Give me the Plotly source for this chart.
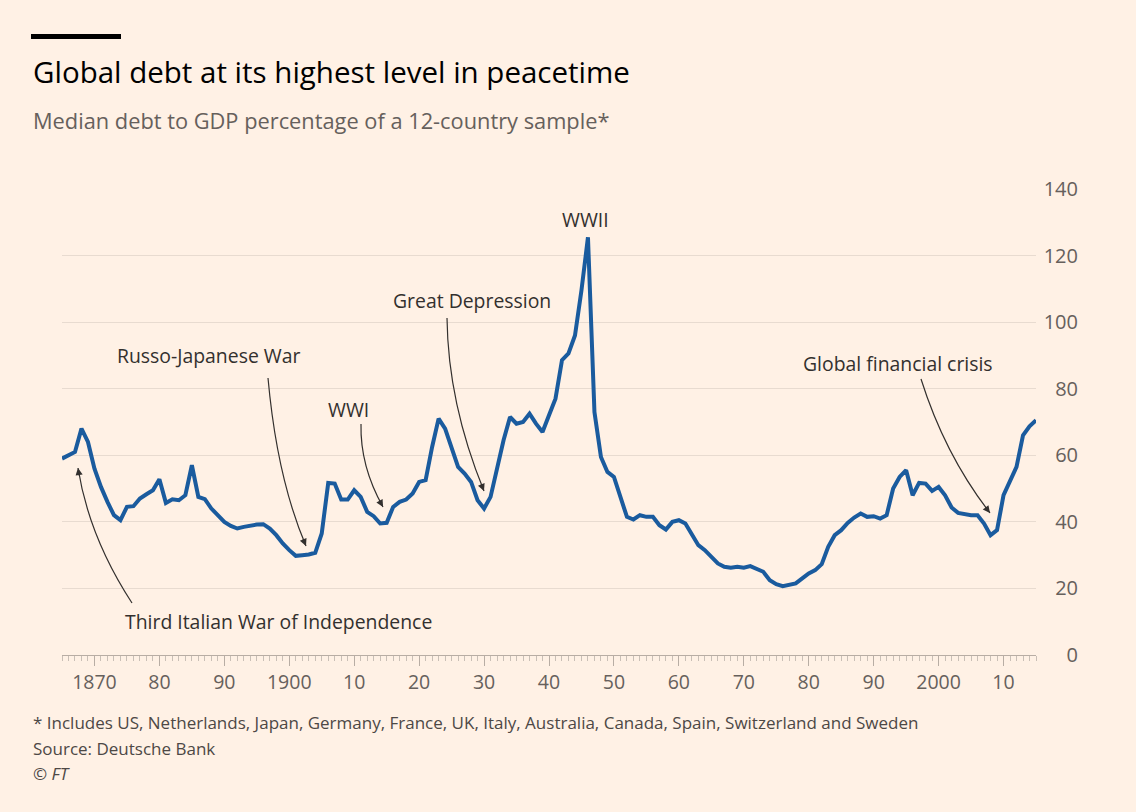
import plotly.graph_objects as go

# ---------------- data ----------------
years = list(range(1865, 2016))
debt_to_gdp = [
    59, 60, 61, 68, 64, 56, 50.5, 46, 42, 40.5,            # 1865-1874
    44.5, 44.7, 47, 48.3, 49.5, 52.8, 45.7, 46.8, 46.5, 48,  # 1875-1884
    57, 47.5, 46.8, 44, 42, 40, 38.8, 38, 38.5, 39,        # 1885-1894
    39.2, 39.3, 38, 36, 33.5, 31.5, 29.8, 30, 30.2, 30.7,  # 1895-1904
    36.5, 51.7, 51.5, 46.7, 46.7, 49.5, 47.5, 43, 41.7, 39.5,  # 1905-1914
    39.7, 44.5, 46, 46.7, 48.5, 52, 52.5, 62.5, 71, 68,    # 1915-1924
    62, 56.5, 54.5, 52, 46.5, 44, 47.5, 56.5, 64.5, 71.5,  # 1925-1934
    69.5, 70, 72.5, 69.5, 67, 72, 77, 88.6, 90.6, 96,      # 1935-1944
    109.6, 125.5, 73, 59.5, 55, 53.5, 47.5, 41.5, 40.7, 42,  # 1945-1954
    41.5, 41.5, 39, 37.7, 40, 40.5, 39.5, 36, 33, 31.5,    # 1955-1964
    29.5, 27.5, 26.5, 26.2, 26.5, 26.2, 26.7, 26, 25, 22.5,  # 1965-1974
    21.3, 20.7, 21, 21.5, 23, 24.5, 25.5, 27.3, 32.5, 36,  # 1975-1984
    37.5, 39.7, 41.3, 42.5, 41.5, 41.7, 41, 42, 50, 53.5,  # 1985-1994
    55.5, 48, 51.7, 51.5, 49.3, 50.5, 48, 44.3, 42.7, 42.3,  # 1995-2004
    42, 42, 39.5, 36, 37.5, 48, 52.5, 56.5, 66, 68.7,      # 2005-2014
    70.5,                                                  # 2015
]
assert len(years) == len(debt_to_gdp)

x_tick_vals = [1870, 1880, 1890, 1900, 1910, 1920, 1930, 1940, 1950,
               1960, 1970, 1980, 1990, 2000, 2010]
x_tick_text = ["1870", "80", "90", "1900", "10", "20", "30", "40", "50",
               "60", "70", "80", "90", "2000", "10"]
y_tick_vals = [0, 20, 40, 60, 80, 100, 120, 140]

title = "Global debt at its highest level in peacetime"
subtitle = "Median debt to GDP percentage of a 12-country sample*"
footnotes = [
    "* Includes US, Netherlands, Japan, Germany, France, UK, Italy, Australia, Canada, Spain, Switzerland and Sweden",
    "Source: Deutsche Bank",
    "© <i>FT</i>",
]

# ---------------- layout geometry (pixels) ----------------
W, H = 1136, 812
ML, MR, MT, MB = 62, 0, 189, 157
PW, PH = W - ML - MR, H - MT - MB
X_LEFT, X_RIGHT = 62, 1036          # plot area in px
Y_TOP, Y_BOT = 189, 655
X0, X1 = 1865, 2015
Y0, Y1 = 0, 140


def px(x):
    return (x - ML) / PW


def py(y):
    return (H - MB - y) / PH


def dx(x):  # pixel -> data year
    return X0 + (x - X_LEFT) / (X_RIGHT - X_LEFT) * (X1 - X0)


def dy(y):  # pixel -> data value
    return Y0 + (Y_BOT - y) / (Y_BOT - Y_TOP) * (Y1 - Y0)


FONT = "Open Sans"
BG = "#fff1e5"
LINE = "#1a5b9e"
GRID = "#e8dbd0"
TXT = "#33302e"
GRAY = "#66605c"

fig = go.Figure()
fig.add_trace(go.Scatter(
    x=years, y=debt_to_gdp, mode="lines",
    line=dict(color=LINE, width=4, shape="linear"),
    hoverinfo="x+y", showlegend=False,
))

fig.update_layout(
    width=W, height=H,
    margin=dict(l=ML, r=MR, t=MT, b=MB, pad=0),
    paper_bgcolor=BG, plot_bgcolor=BG,
    font=dict(family=FONT, color=TXT),
    xaxis=dict(
        domain=[0, px(X_RIGHT)],
        range=[X0, X1],
        tickvals=x_tick_vals, ticktext=x_tick_text,
        ticks="outside", ticklen=10, tickcolor="#b8ada4", tickwidth=1,
        showline=True, linecolor="#b8ada4", linewidth=1,
        showgrid=False, zeroline=False,
        tickfont=dict(size=19.5, color=GRAY, family=FONT),
        minor=dict(dtick=1, ticks="outside", ticklen=5, tickcolor="#c9bfb6", tickwidth=1),
        fixedrange=True,
    ),
    yaxis=dict(
        range=[Y0, Y1],
        tickvals=y_tick_vals,
        anchor="free", position=px(1078), side="left",
        showgrid=True, gridcolor=GRID, gridwidth=1,
        zeroline=False, showline=False, ticks="",
        tickfont=dict(size=20, color=GRAY, family=FONT),
        fixedrange=True,
    ),
)

# top black bar
fig.add_shape(type="rect", xref="paper", yref="paper",
              x0=px(31), x1=px(121), y0=py(39), y1=py(34),
              fillcolor="#000000", line=dict(width=0), layer="above")

ann = []
ann.append(dict(text=title, x=px(31), y=py(72), xanchor="left", yanchor="middle",
                font=dict(size=29.5, color="#000000", family=FONT)))
ann.append(dict(text=subtitle, x=px(31), y=py(121), xanchor="left", yanchor="middle",
                font=dict(size=21.8, color=GRAY, family=FONT)))
for i, (t, yy) in enumerate(zip(footnotes, [722, 748, 773])):
    ann.append(dict(text=t, x=px(31), y=py(yy), xanchor="left", yanchor="middle",
                    font=dict(size=17, color="#4d4845", family=FONT)))

# event labels (pixel centres)
labels = [
    ("WWII", 585, 219),
    ("Great Depression", 472, 300),
    ("Russo-Japanese War", 208, 355),
    ("WWI", 348, 409),
    ("Global financial crisis", 898, 363),
    ("Third Italian War of Independence", 278, 621),
]
for t, lx, ly in labels:
    ann.append(dict(text=t, x=px(lx), y=py(ly), xanchor="center", yanchor="middle",
                    font=dict(size=19.4, color=TXT, family=FONT)))

for a in ann:
    a.update(xref="paper", yref="paper", showarrow=False)

# curved arrows: (start, control, tip) in px
arrows = [
    ((132, 603), (89, 537), (78, 468)),
    ((268, 378), (277, 478), (306, 546)),
    ((361, 424), (360, 466), (383, 507)),
    ((447, 318), (448, 403), (484, 491)),
    ((921, 379), (945, 455), (990, 513)),
]
for (s, c, e) in arrows:
    path = "M {} {} Q {} {} {} {}".format(dx(s[0]), dy(s[1]), dx(c[0]), dy(c[1]), dx(e[0]), dy(e[1]))
    fig.add_shape(type="path", xref="x", yref="y", path=path,
                  line=dict(color=TXT, width=1.2), layer="above")
    vx, vy = c[0] - e[0], c[1] - e[1]
    n = (vx ** 2 + vy ** 2) ** 0.5
    ann.append(dict(x=dx(e[0]), y=dy(e[1]), xref="x", yref="y", text="",
                    showarrow=True, arrowhead=2, arrowsize=1.1, arrowwidth=1.3,
                    arrowcolor=TXT, ax=vx / n * 9, ay=vy / n * 9,
                    axref="pixel", ayref="pixel", standoff=0))

fig.update_layout(annotations=ann)
fig.write_html("out.html", config={"displayModeBar": False},
               post_script="document.body.style.margin='0';document.body.style.padding='0';")
